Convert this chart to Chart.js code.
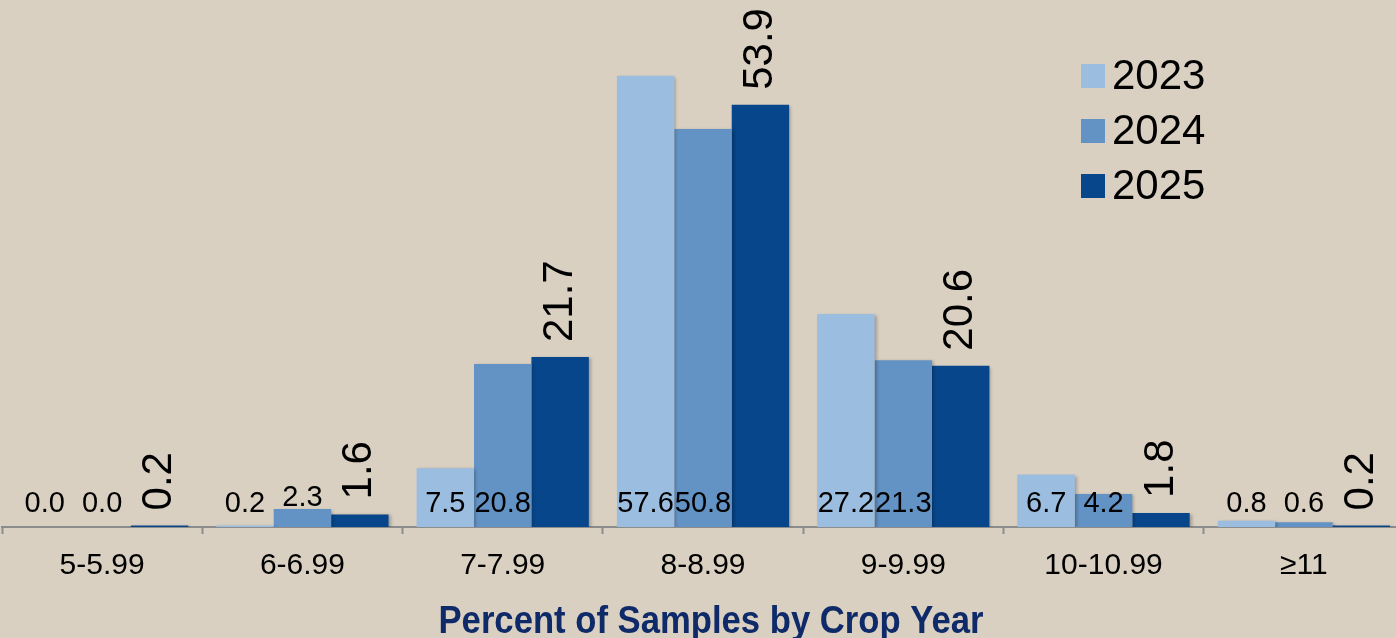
<!DOCTYPE html>
<html>
<head>
<meta charset="utf-8">
<script src="https://cdn.jsdelivr.net/npm/chart.js@4.4.1/dist/chart.umd.min.js"></script>
<style>
  html, body { margin: 0; padding: 0; background: #d9d0c2; overflow: hidden; }
  #wrap { width: 1406px; height: 638px; position: relative; }
</style>
</head>
<body>
<div id="wrap"><canvas id="grafico"></canvas></div>
<script>
// categorias de umidade e percentuais por ano
const categorias = ['5-5.99', '6-6.99', '7-7.99', '8-8.99', '9-9.99', '10-10.99', '≥11'];
const anos = ['2023', '2024', '2025'];
const valores2023 = [0.0, 0.2, 7.5, 57.6, 27.2, 6.7, 0.8];
const valores2024 = [0.0, 2.3, 20.8, 50.8, 21.3, 4.2, 0.6];
const valores2025 = [0.2, 1.6, 21.7, 53.9, 20.6, 1.8, 0.2];
const cores = ['#9bbde0', '#6393c5', '#07468a'];
const titulo = 'Percent of Samples by Crop Year';

const FONTE = '"Liberation Sans", Arial, sans-serif';

// sombra leve nas barras
const sombraBarras = {
    id: 'sombraBarras',
    beforeDatasetsDraw(chart) {
        const ctx = chart.ctx;
        ctx.save();
        ctx.shadowColor = 'rgba(0,0,0,0.25)';
        ctx.shadowOffsetX = 2;
        ctx.shadowOffsetY = 1;
        ctx.shadowBlur = 3;
    },
    afterDatasetsDraw(chart) {
        chart.ctx.restore();
    }
};

// rótulos de valor: 2023/2024 na base, 2025 girado acima da barra
const rotulos = {
    id: 'rotulos',
    afterDatasetsDraw(chart) {
        const ctx = chart.ctx;
        const base = chart.scales.y.getPixelForValue(0);
        chart.data.datasets.forEach((ds, i) => {
            const meta = chart.getDatasetMeta(i);
            meta.data.forEach((bar, j) => {
                const texto = ds.data[j].toFixed(1);
                ctx.save();
                ctx.fillStyle = '#000';
                if (i < 2) {
                    ctx.font = '29px ' + FONTE;
                    ctx.textAlign = 'center';
                    ctx.textBaseline = 'alphabetic';
                    const altura = base - bar.y;
                    let y = base - 15;
                    if (altura > 10 && altura < 26) {
                        y = bar.y - 3;
                    }
                    ctx.fillText(texto, bar.x, y);
                } else {
                    ctx.font = '42px ' + FONTE;
                    ctx.translate(bar.x, bar.y - 15);
                    ctx.rotate(-Math.PI / 2);
                    ctx.textAlign = 'left';
                    ctx.textBaseline = 'middle';
                    ctx.fillText(texto, 0, 0);
                }
                ctx.restore();
            });
        });
    }
};

// legenda no canto superior direito + título do eixo (fonte estreita)
const extras = {
    id: 'extras',
    afterDraw(chart) {
        const ctx = chart.ctx;
        ctx.save();
        ctx.font = '42px ' + FONTE;
        ctx.textBaseline = 'middle';
        ctx.textAlign = 'left';
        chart.data.datasets.forEach((ds, i) => {
            const y = 76 + i * 55;
            ctx.fillStyle = ds.backgroundColor;
            ctx.fillRect(1081, y - 12, 24, 24);
            ctx.fillStyle = '#000';
            ctx.fillText(ds.label, 1112, y + 1);
        });

        ctx.font = 'bold 38px ' + FONTE;
        const largura = ctx.measureText(titulo).width;
        const escala = 545 / largura;
        ctx.translate(711, 633);
        ctx.scale(escala, 1);
        ctx.fillStyle = '#0e2a68';
        ctx.textAlign = 'center';
        ctx.textBaseline = 'alphabetic';
        ctx.fillText(titulo, 0, 0);
        ctx.restore();
    }
};

new Chart(document.getElementById('grafico'), {
    type: 'bar',
    data: {
        labels: categorias,
        datasets: [
            { label: anos[0], data: valores2023, backgroundColor: cores[0] },
            { label: anos[1], data: valores2024, backgroundColor: cores[1] },
            { label: anos[2], data: valores2025, backgroundColor: cores[2] }
        ]
    },
    options: {
        responsive: true,
        maintainAspectRatio: false,
        animation: false,
        layout: { padding: { top: 57, left: 2, right: 2, bottom: 40 } },
        datasets: { bar: { categoryPercentage: 0.86, barPercentage: 1.0 } },
        plugins: {
            legend: { display: false },
            tooltip: { enabled: false }
        },
        scales: {
            y: { display: false, min: 0, max: 60 },
            x: {
                grid: {
                    offset: true,
                    drawOnChartArea: false,
                    drawTicks: true,
                    tickLength: 7,
                    tickColor: '#8c8c8c',
                    tickWidth: 2
                },
                border: { display: true, color: '#8c8c8c', width: 2 },
                ticks: {
                    color: '#000',
                    padding: 14,
                    font: { family: FONTE, size: 30, lineHeight: 1.2 }
                }
            }
        }
    },
    plugins: [sombraBarras, rotulos, extras]
});
</script>
</body>
</html>
